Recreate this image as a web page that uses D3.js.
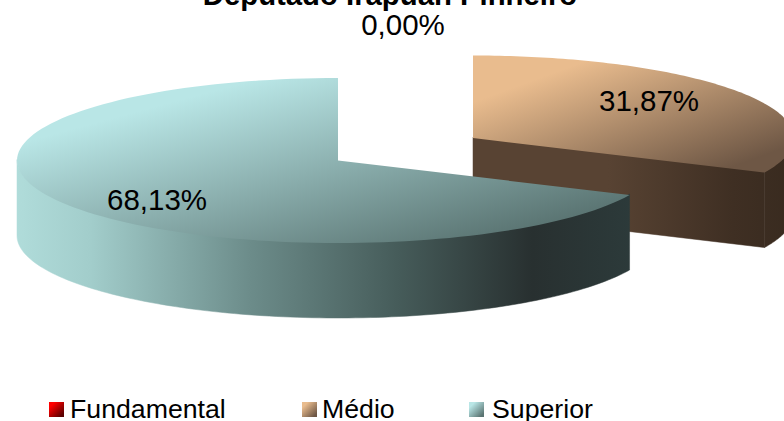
<!DOCTYPE html>
<html lang="pt">
<head>
  <meta charset="UTF-8">
  <title>Deputado Irapuan Pinheiro</title>
  <script src="https://d3js.org/d3.v7.min.js"></script>
  <style>
    html, body { margin: 0; padding: 0; background: #fff; overflow: hidden; }
    svg { display: block; font-family: "Liberation Sans", Arial, sans-serif; }
  </style>
</head>
<body>
  <svg width="784" height="421"></svg>
<script>
  const categories = ["Fundamental", "Médio", "Superior"];
  const values = [0.00, 31.87, 68.13];
  const titleText = "Deputado Irapuan Pinheiro";

  const svg = d3.select("svg");
  const defs = svg.append("defs");

  // pie geometry, ellipse seen from above
  const center = { x: 338, y: 160.5 };
  const rx = 321, ry = 82.5, depth = 75;
  const explode = [[0, 0], [135, -22.5], [0, 0]];
  const labelPos = [[403, 35], [649, 111], [157, 209.5]];
  const legendX = [49, 302, 469];
  const legendTextX = [70, 322, 492];

  const px = d3.scaleLinear().domain([-1, 1]).range([center.x - rx, center.x + rx]);
  const py = d3.scaleLinear().domain([-1, 1]).range([center.y - ry, center.y + ry]);

  const topColors = [["#ff0000", "#5a0000"], ["#e9bc8e", "#6e5745"], ["#b9e6e6", "#5a7472"]];
  const wallStops = [
    [],
    [[0, "#584333"], [0.4, "#3f2f23"], [0.75, "#33271c"], [1, "#33271c"]],
    [[0, "#b0dcda"], [0.12, "#a2cdcb"], [0.38, "#6c8c8a"], [0.62, "#465c5a"], [0.84, "#283030"], [1, "#2c3a3a"]]
  ];
  const wallRange = [[0, 0], [473, 784], [17, 630]];

  categories.forEach((c, i) => {
    const g = defs.append("linearGradient").attr("id", `top${i}`)
      .attr("x1", 0).attr("y1", 0).attr("x2", 1).attr("y2", 1);
    g.append("stop").attr("offset", "20%").attr("stop-color", topColors[i][0]);
    g.append("stop").attr("offset", "88%").attr("stop-color", topColors[i][1]);

    const w = defs.append("linearGradient").attr("id", `wall${i}`)
      .attr("gradientUnits", "userSpaceOnUse")
      .attr("x1", wallRange[i][0]).attr("y1", 0).attr("x2", wallRange[i][1]).attr("y2", 0);
    wallStops[i].forEach(s => w.append("stop").attr("offset", s[0]).attr("stop-color", s[1]));
  });

  const pie = d3.pie().sort(null).startAngle(0).endAngle(2 * Math.PI);
  const slices = pie(values);

  const rim = (a, dy) => [px(Math.sin(a)), py(-Math.cos(a)) + dy];
  const arcPts = (a0, a1, dy) => d3.range(0, 121).map(k => rim(a0 + (a1 - a0) * k / 120, dy));
  const line = d3.line();

  const pieG = svg.append("g");

  // back slice first, then the front one on top
  [1, 2].forEach(i => {
    const s = slices[i];
    const g = pieG.append("g").attr("transform", `translate(${explode[i][0]},${explode[i][1]})`);
    const fill = `url(#wall${i})`;

    // cut face turned to the viewer, top edge tucked under the top face so no seam shows
    if (s.endAngle < Math.PI) {
      const apex = [center.x, center.y];
      const p = rim(s.endAngle, 0);
      g.append("path")
        .attr("d", line([[apex[0], apex[1] - 1], [p[0], p[1] - 1], [p[0], p[1] + depth], [apex[0], apex[1] + depth]]) + "Z")
        .attr("fill", fill).attr("stroke", fill).attr("stroke-width", 0.5);
    }

    // outer wall, front half of the ellipse only
    const a0 = Math.max(s.startAngle, Math.PI / 2);
    const a1 = Math.min(s.endAngle, 1.5 * Math.PI);
    if (a1 > a0) {
      const pts = arcPts(a0, a1, -1).concat(arcPts(a0, a1, depth).reverse());
      g.append("path").attr("d", line(pts) + "Z")
        .attr("fill", fill).attr("stroke", fill).attr("stroke-width", 0.5);
    }

    // top face
    const topPts = [[center.x, center.y]].concat(arcPts(s.startAngle, s.endAngle, 0));
    g.append("path").attr("d", line(topPts) + "Z").attr("fill", `url(#top${i})`);
  });

  // title, cut by the top of the picture as in the source
  svg.append("text")
    .attr("x", 390).attr("y", 5)
    .attr("text-anchor", "middle")
    .attr("font-size", 29.3).attr("font-weight", "bold")
    .text(titleText);

  svg.selectAll(".label").data(values).enter().append("text")
    .attr("class", "label")
    .attr("x", (d, i) => labelPos[i][0])
    .attr("y", (d, i) => labelPos[i][1])
    .attr("text-anchor", "middle")
    .attr("font-size", 29.5)
    .text(d => d.toFixed(2).replace(".", ",") + "%");

  const legend = svg.selectAll(".legend").data(categories).enter().append("g")
    .attr("class", "legend");
  legend.append("rect")
    .attr("x", (d, i) => legendX[i]).attr("y", 402)
    .attr("width", 15).attr("height", 15)
    .attr("fill", (d, i) => `url(#top${i})`);
  legend.append("text")
    .attr("x", (d, i) => legendTextX[i]).attr("y", 418)
    .attr("font-size", 26.7)
    .text(d => d);
</script>
</body>
</html>
